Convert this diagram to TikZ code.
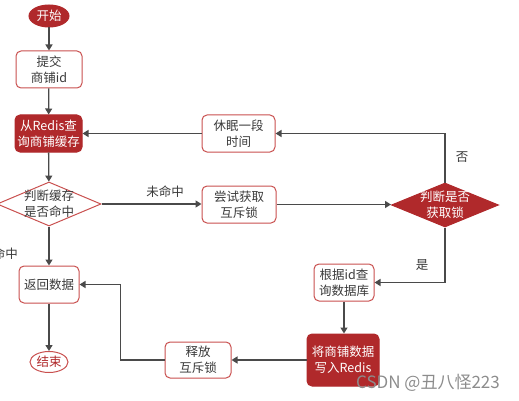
\documentclass[tikz,border=0pt]{standalone}
\usepackage{fontspec}
\setmainfont{Noto Sans CJK SC}
\usetikzlibrary{shapes.geometric,arrows.meta}
\definecolor{dred}{HTML}{B0292B}
\definecolor{bred}{HTML}{C9504F}
\definecolor{txt}{HTML}{3A3A3A}
\definecolor{ln}{HTML}{4A4A4A}
\begin{document}
\begin{tikzpicture}[x=1pt,y=-1pt,
  font=\fontsize{12.5}{16}\selectfont,
  wbox/.style={draw=bred, line width=1pt, rounded corners=5pt, fill=white, text=txt, align=center, inner sep=0pt},
  rbox/.style={draw=dred, line width=1pt, rounded corners=5pt, fill=dred, text=white, align=center, inner sep=0pt},
  term/.style={ellipse, line width=1pt, inner sep=0pt},
  dia/.style={diamond, line width=1pt, inner sep=0pt},
  arr/.style={draw=ln, line width=1.3pt, -{Triangle[length=6pt,width=7pt]}},
  lbl/.style={text=txt, inner sep=0pt}]
\useasboundingbox (0,0) rectangle (519,401);
\node[term, draw=dred, fill=dred, text=white, minimum width=40pt, minimum height=22pt] (start) at (49,16) {开始};
\node[wbox, minimum width=66pt, minimum height=37pt] (submit) at (49,69.5) {提交\\商铺id};
\node[rbox, minimum width=67pt, minimum height=37pt] (query) at (48.5,133.5) {从Redis查\\询商铺缓存};
\node[dia, draw=bred, fill=white, minimum width=104pt, minimum height=44pt] (hit) at (49,204) {};
\node[lbl, align=center] (hitt) at (hit) {判断缓存\\是否命中};
\node[wbox, minimum width=60pt, minimum height=37pt] (ret) at (49,284.5) {返回数据};
\node[term, draw=bred, fill=white, text=dred, minimum width=38pt, minimum height=21pt] (end) at (49,362) {结束};
\node[wbox, minimum width=73pt, minimum height=37pt] (sleep) at (238.5,133.5) {休眠一段\\时间};
\node[wbox, minimum width=74pt, minimum height=37pt] (try) at (239,204.5) {尝试获取\\互斥锁};
\node[dia, draw=dred, fill=dred, minimum width=107pt, minimum height=44pt] (lock) at (445,205) {};
\node[inner sep=0pt, text=white, align=center] (lockt) at (lock) {判断是否\\获取锁};
\node[wbox, minimum width=60pt, minimum height=37pt] (db) at (344,282.5) {根据id查\\询数据库};
\node[rbox, minimum width=72pt, minimum height=52pt] (write) at (343,360) {将商铺数据\\写入Redis};
\node[wbox, minimum width=66pt, minimum height=36pt] (unlock) at (198,360) {释放\\互斥锁};

\draw[arr] (start) -- (submit);
\draw[arr] (submit) -- (query);
\draw[arr] (query) -- (hit);
\draw[arr] (hit) -- (ret);
\draw[arr] (ret) -- (end);
\draw[arr] (hit.east) -- (hit.east -| try.west);
\draw[arr] (try.east) -- (try.east -| lock.west);
\draw[arr] (lock.north) |- (sleep.east);
\draw[arr] (sleep.west) -- (query.east);
\draw[arr] (lock.south) |- (db.east);
\draw[arr] (db.south) -- (db.south |- write.north);
\draw[arr] (write.west) -- (unlock.east);
\draw[arr] (unlock.west) -- ++(-44,0) |- (ret.east);

\node[lbl] (miss) at (165,192) {未命中};
\node[lbl] (no) at (462,157) {否};
\node[lbl] (yes) at (422,265) {是};
\node[lbl, anchor=east] (hitl) at (18,254) {命中};
\node[inner sep=0pt, text=black!45, font=\fontsize{17}{19}\selectfont] (wm) at (428,383) {CSDN @丑八怪223};
\end{tikzpicture}
\end{document}
